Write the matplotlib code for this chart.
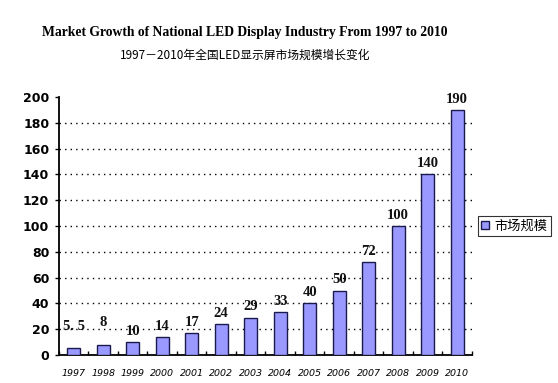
import matplotlib
matplotlib.use("Agg")
import matplotlib.pyplot as plt
import numpy as np

years = ["1997", "1998", "1999", "2000", "2001", "2002", "2003", "2004", "2005", "2006", "2007", "2008", "2009", "2010"]
values = [5.5, 8, 10, 14, 17, 24, 29, 33, 40, 50, 72, 100, 140, 190]
labels = ["5. 5", "8", "10", "14", "17", "24", "29", "33", "40", "50", "72", "100", "140", "190"]
yticks = [0, 20, 40, 60, 80, 100, 120, 140, 160, 180, 200]
series_name = "市场规模"

fig = plt.figure(figsize=(5.58, 3.83), dpi=100)
fig.patch.set_facecolor("white")
ax = fig.add_axes([0.1057, 0.0731, 0.740, 0.6736])

x = np.arange(len(years))
bars = ax.bar(x, values, width=0.44, color="#9999FF", edgecolor="#1a1a4d", linewidth=1.0,
              label=series_name, zorder=3)

# the two first labels sit a bit higher in the original
extra_pt = {0: 8, 1: 8}
for i, (bar, lab) in enumerate(zip(bars, labels)):
    ax.annotate(lab, (bar.get_x() + bar.get_width() / 2, bar.get_height()),
                xytext=(0, 3 + extra_pt.get(i, 0)), textcoords="offset points",
                ha="center", va="bottom", fontsize=10.5, family="Liberation Serif",
                fontweight="bold", color="#111111")

ax.set_xlim(-0.5, len(years) - 0.5)
ax.set_ylim(0, 200)
ax.set_yticks(yticks)
ax.set_yticklabels([str(t) for t in yticks], fontsize=9, fontweight="bold", family="DejaVu Sans")
for t in yticks[1:-1]:
    ax.axhline(t, color="black", linestyle=(0, (1, 3)), linewidth=1.0, zorder=1)

ax.set_xticks(x)
ax.set_xticklabels(years, fontsize=6.8, style="italic", family="DejaVu Sans")
ax.tick_params(axis="x", length=0, pad=10)
ax.set_xticks(np.arange(-0.5, len(years), 1), minor=True)
ax.tick_params(axis="x", which="minor", length=3, direction="in", width=1)
ax.tick_params(axis="y", length=3, direction="out", width=1, pad=4)

for s in ["top", "right"]:
    ax.spines[s].set_visible(False)
ax.spines["left"].set_linewidth(1.3)
ax.spines["bottom"].set_linewidth(1.3)

leg = ax.legend(loc="center left", bbox_to_anchor=(1.015, 0.5),
                prop={"family": ["Noto Sans CJK SC", "DejaVu Sans"], "size": 9.5},
                frameon=True, fancybox=False, edgecolor="black", handlelength=0.6,
                handleheight=0.6, handletextpad=0.4, borderpad=0.25, borderaxespad=0)
leg.get_frame().set_linewidth(0.8)

fig.text(0.439, 0.914, "Market Growth of National LED Display Industry From 1997 to 2010",
         ha="center", va="center", fontsize=9.8, fontweight="bold", family="Liberation Serif")
fig.text(0.439, 0.856, "1997－2010年全国LED显示屏市场规模增长变化",
         ha="center", va="center", fontsize=8.5, family=["Noto Sans CJK SC", "DejaVu Sans"])

fig.savefig("out.png", dpi=100)
